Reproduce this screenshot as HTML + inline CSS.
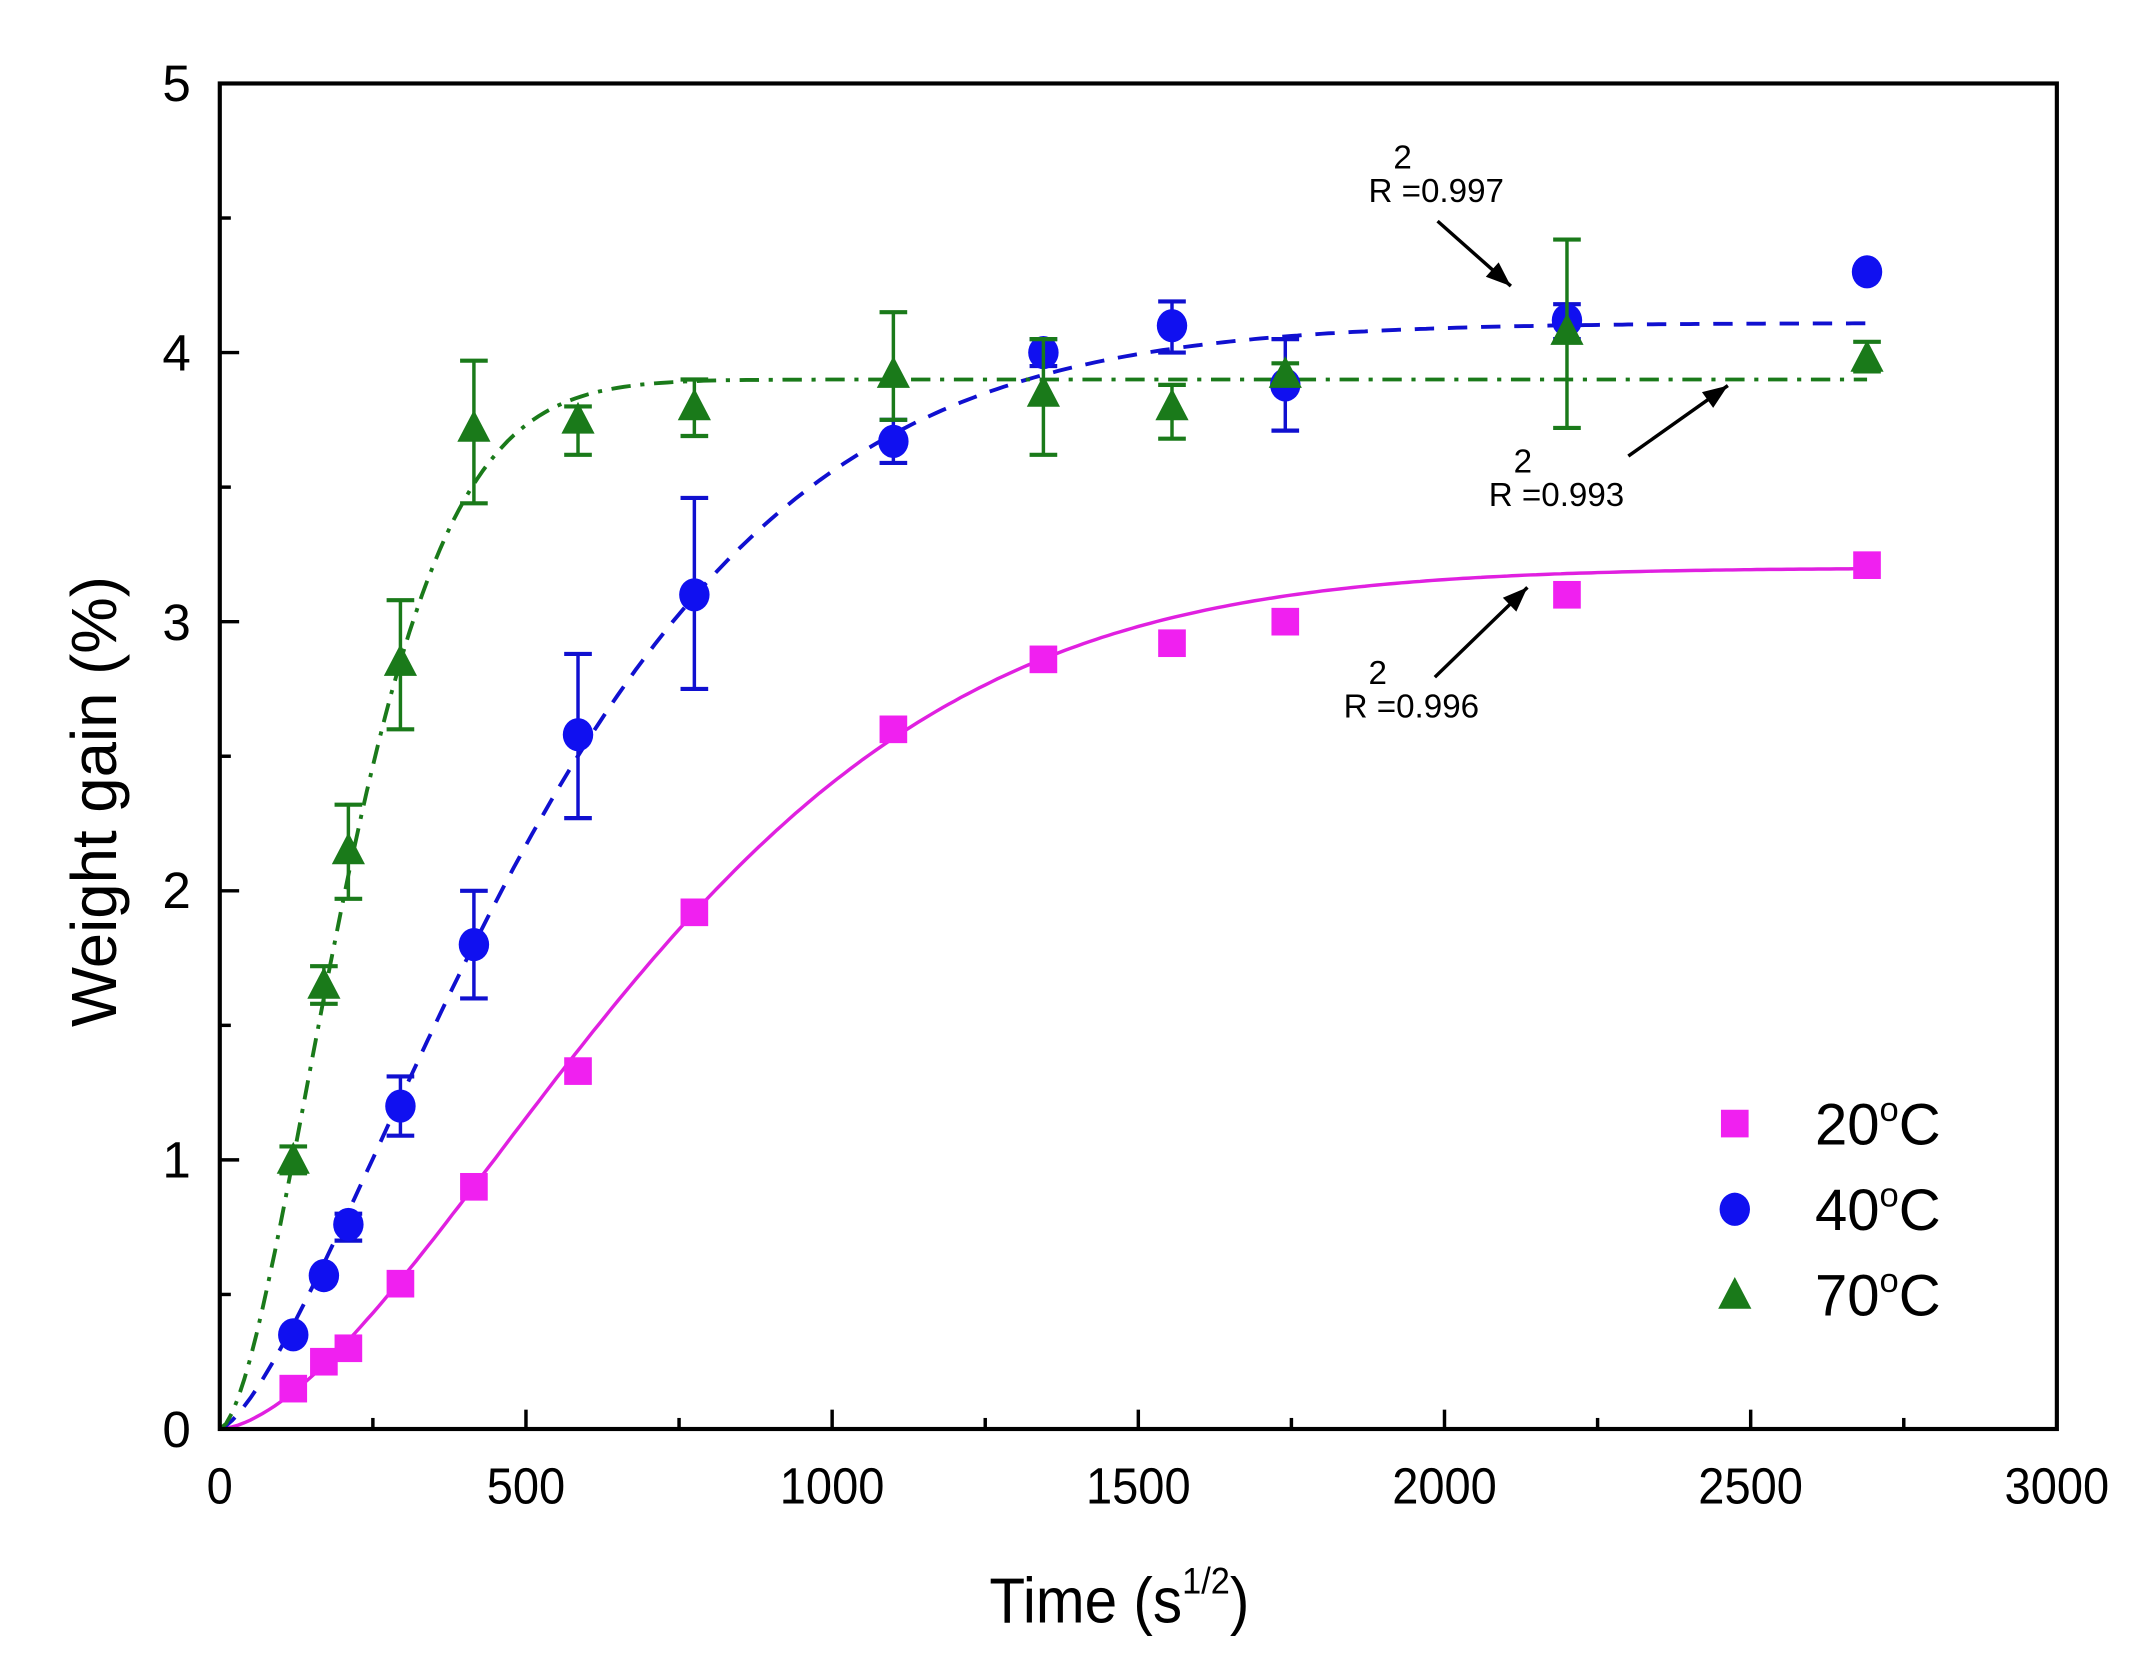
<!DOCTYPE html>
<html><head><meta charset="utf-8"><style>
html,body{margin:0;padding:0;background:#fff;}
svg{display:block;}
text{font-family:"Liberation Sans",Arial,sans-serif;}
</style></head><body>
<svg id="s" width="2155" height="1675" viewBox="0 0 1559 1212" preserveAspectRatio="none" xmlns="http://www.w3.org/2000/svg">
<rect width="1559" height="1212" fill="#fff"/>
<g id="plot"></g>
<rect x="159" y="60.4" width="1329" height="973.6" fill="none" stroke="#000" stroke-width="3"/>
<g id="ticks" stroke="#000" stroke-width="2.5"></g>
<g font-size="37" fill="#000" text-anchor="middle" transform="scale(0.92,1)">
<text x="172.8" y="1088">0</text><text x="413.6" y="1088">500</text><text x="654.3" y="1088">1000</text>
<text x="895.1" y="1088">1500</text><text x="1135.9" y="1088">2000</text><text x="1376.6" y="1088">2500</text><text x="1617.4" y="1088">3000</text>
</g>
<g font-size="37" fill="#000" text-anchor="end">
<text x="138" y="1047">0</text><text x="138" y="852">1</text><text x="138" y="657">2</text>
<text x="138" y="463">3</text><text x="138" y="268">4</text><text x="138" y="73">5</text>
</g>
<text x="716" y="1174" font-size="46" transform="translate(57,0) scale(0.92,1)">Time (s<tspan font-size="27" dy="-21">1/2</tspan><tspan dy="21">)</tspan></text>
<text transform="translate(84,580) rotate(-90)" font-size="46" text-anchor="middle">Weight gain (%)</text>
<g font-size="24" fill="#000">
<text x="1008" y="122">2</text><text x="990" y="146">R  =0.997</text>
<text x="1095" y="342">2</text><text x="1077" y="366">R  =0.993</text>
<text x="990" y="495">2</text><text x="972" y="519">R  =0.996</text>
</g>
<g font-size="42" fill="#000">
<text x="1313" y="828">20<tspan font-size="25" dy="-17">o</tspan><tspan dy="17">C</tspan></text>
<text x="1313" y="890">40<tspan font-size="25" dy="-17">o</tspan><tspan dy="17">C</tspan></text>
<text x="1313" y="952">70<tspan font-size="25" dy="-17">o</tspan><tspan dy="17">C</tspan></text>
</g>
</svg>
<script>
var NS="http://www.w3.org/2000/svg";
function X(v){return 159+v*1329/3000;}
function Y(v){return 1034-v*194.72;}
var P=document.getElementById('plot');
function el(t,a,p){var e=document.createElementNS(NS,t);for(var k in a)e.setAttribute(k,a[k]);(p||P).appendChild(e);return e;}
var T=document.getElementById('ticks');
for(var v=250;v<3000;v+=250){var L=(v%500==0)?14:8;el('line',{x1:X(v),y1:1034,x2:X(v),y2:1034-L},T);}
for(var v=0.5;v<5;v+=0.5){var L=(Math.abs(v-Math.round(v))<1e-6)?14:8;el('line',{x1:159,y1:Y(v),x2:159+L,y2:Y(v)},T);}
function curve(A,tau,n,col,dash,w){var d='';for(var x=0;x<=2690;x+=10){var y=A*(1-Math.exp(-Math.pow(x/tau,n)));d+=(x?'L':'M')+X(x).toFixed(1)+' '+Y(y).toFixed(1);}
el('path',{d:d,fill:'none',stroke:col,'stroke-width':w,'stroke-dasharray':dash});}
curve(3.2,818,1.63,'#e020e0','',2.5);
curve(4.11,612,1.42,'#1010d0','14 10',2.8);
curve(3.9,250,1.65,'#1a7a1a','14 7 3 7',2.8);
var xs=[120,170,210,295,415,585,775,1100,1345,1555,1740,2200,2690];
var d20=[0.15,0.25,0.3,0.54,0.9,1.33,1.92,2.6,2.86,2.92,3.0,3.1,3.21];
var d40=[0.35,0.57,0.76,1.2,1.8,2.58,3.1,3.67,4.0,4.1,3.88,4.12,4.3];
var e40=[[0,0],[0,0],[0.7,0.8],[1.09,1.31],[1.6,2.0],[2.27,2.88],[2.75,3.46],[3.59,3.75],[3.95,4.05],[4.0,4.19],[3.71,4.05],[4.05,4.18],[0,0]];
var d70=[1.0,1.65,2.15,2.85,3.72,3.75,3.8,3.92,3.85,3.8,3.92,4.08,3.98];
var e70=[[0.95,1.05],[1.58,1.72],[1.97,2.32],[2.6,3.08],[3.44,3.97],[3.62,3.8],[3.69,3.9],[3.75,4.15],[3.62,4.05],[3.68,3.88],[3.88,3.96],[3.72,4.42],[3.93,4.04]];
function eb(x,e,col){if(!e[0]&&!e[1])return;var cx=X(x);el('line',{x1:cx,y1:Y(e[0]),x2:cx,y2:Y(e[1]),stroke:col,'stroke-width':2.5});
el('line',{x1:cx-10,y1:Y(e[0]),x2:cx+10,y2:Y(e[0]),stroke:col,'stroke-width':3});el('line',{x1:cx-10,y1:Y(e[1]),x2:cx+10,y2:Y(e[1]),stroke:col,'stroke-width':3});}
function sq(cx,cy){el('rect',{x:cx-10,y:cy-10,width:20,height:20,fill:'#f020f0'});}
function ci(cx,cy){el('ellipse',{cx:cx,cy:cy,rx:11,ry:12,fill:'#1010f0'});}
function tr(cx,cy){el('path',{d:'M'+cx+' '+(cy-13)+'L'+(cx+12)+' '+(cy+10)+'L'+(cx-12)+' '+(cy+10)+'Z',fill:'#1a7a1a'});}
for(var i=0;i<xs.length;i++){sq(X(xs[i]),Y(d20[i]));}
for(var i=0;i<xs.length;i++){eb(xs[i],e40[i],'#1010d0');ci(X(xs[i]),Y(d40[i]));}
for(var i=0;i<xs.length;i++){eb(xs[i],e70[i],'#1a7a1a');tr(X(xs[i]),Y(d70[i]));}
sq(1255,813);ci(1255,875);tr(1255,937);
function arrow(x1,y1,x2,y2){el('line',{x1:x1,y1:y1,x2:x2,y2:y2,stroke:'#000','stroke-width':2.5});
var a=Math.atan2(y2-y1,x2-x1),l=18,w=7;var bx=x2-l*Math.cos(a),by=y2-l*Math.sin(a);
el('path',{d:'M'+x2+' '+y2+'L'+(bx-w*Math.sin(a))+' '+(by+w*Math.cos(a))+'L'+(bx+w*Math.sin(a))+' '+(by-w*Math.cos(a))+'Z',fill:'#000'});}
arrow(1040,160,1093,207);arrow(1178,330,1250,279);arrow(1038,490,1105,425);
</script>
</body></html>
